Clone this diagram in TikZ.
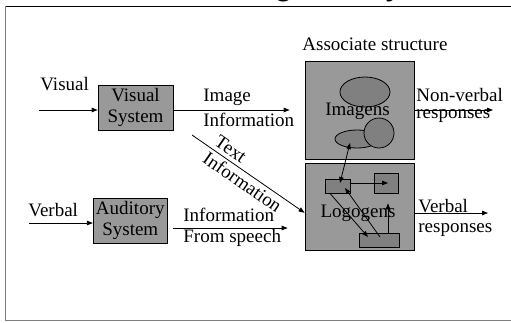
\documentclass[tikz,border=0pt]{standalone}
\usepackage{fontspec}
\setmainfont{Liberation Serif}
\newfontfamily\headfont{Liberation Sans}
\usetikzlibrary{arrows.meta,positioning,calc,shapes.geometric}
\definecolor{boxgray}{RGB}{153,153,153}
\definecolor{cellgray}{RGB}{128,128,128}
\definecolor{framegray}{RGB}{125,125,125}

\begin{document}
\begin{tikzpicture}[
  x=1pt, y=-1pt,
  font=\fontsize{19}{21}\selectfont,
  line width=0.8pt,
  >={Triangle[length=6pt,width=4.5pt]},
  sys/.style={draw, fill=boxgray, align=center, inner sep=1pt, minimum width=75pt, minimum height=45pt},
  store/.style={draw, fill=boxgray, inner sep=0pt, minimum width=109pt},
  cell/.style={draw, fill=cellgray, inner sep=0pt},
  lbl/.style={inner sep=0pt, anchor=base west},
  arr/.style={->},
]
\path[use as bounding box, clip] (0,0) rectangle (511,322);

% slide title, mostly cut away above the frame
\node[font=\headfont\fontsize{36}{40}\selectfont, anchor=base west, inner sep=0pt] (title) at (9,-5.8) {of the dual coding theory};
\draw (5,6) -- (511,6);
\draw[framegray] (5,6) -- (5,320.5) -- (511,320.5);

\node[sys] (vsys) at (135.5,107.5) {Visual\\System};
\node[sys, minimum width=74pt] (asys) at (130.3,220.8) {Auditory\\System};
\node[store, minimum height=98pt] (imag) at (359.5,110) {};
\node[store, minimum height=87pt, below=4pt of imag] (logo) {};
\node[lbl] (assoc) at (302,50) {Associate structure};

\node[cell, ellipse, minimum width=50pt, minimum height=30pt] (e1) at (365,92) {};
\node[cell, ellipse, minimum width=44pt, minimum height=18pt] (e2) at (357,139) {};
\node[cell, circle, minimum size=30pt] (e3) at (379,133) {};
\node[anchor=base, inner sep=0pt] (imtxt) at (357.5,115) {Imagens};

\node[cell, minimum width=25pt, minimum height=14pt] (r1) at (337.5,186) {};
\node[cell, minimum width=24pt, minimum height=20pt] (r2) at (386,183) {};
\node[cell, minimum width=40pt, minimum height=14pt] (r3) at (379,240) {};

\coordinate (vin) at (39,110);
\coordinate (ain) at (29,223);
\coordinate (aout) at (172.7,228);
\coordinate (ts) at (192,135);
\coordinate (nvout) at (493,110);
\coordinate (vout) at (488,213);

\node[lbl] (vislbl) at (40,90.7) {Visual};
\node[lbl] (verblbl) at (28,216.7) {Verbal};
\node[lbl] (imglbl) at (203,101.7) {Image};
\node[lbl] (imginf) at (203,126.7) {Information};
\node[lbl] (audinf) at (183,221.7) {Information};
\node[lbl] (audsp) at (183,242.7) {From speech};
\node[lbl] (nvlbl) at (416,101) {Non-verbal};
\node[lbl] (nvresp) at (416,118) {responses};
\node[lbl] (vlbl) at (418,212) {Verbal};
\node[lbl] (vresp) at (418,232) {responses};

\draw[arr] (vin) -- (vin -| vsys.west);
\draw[arr] (vin -| vsys.east) -- ($(vin -| imag.west)+(-15,0)$);
\draw[arr] (ain) -- (ain -| asys.west);
\draw[arr] (aout) -- ($(aout -| logo.west)+(-17,0)$);
\draw[arr] (ts) -- node[sloped, pos=0.5, align=left, inner sep=0pt] (tinf) {Text\\Information} ([shift={(0,5.5)}]logo.west);
\draw[arr] (imag.east) -- (nvout);
\draw[arr] (vout -| logo.east) -- (vout);

\draw[<->] ([shift={(-7,4)}]e2.center) -- ([shift={(2.5,-3)}]r1.center);
\draw[arr] ([shift={(0,-3)}]r1.east) -- ([shift={(2,0)}]r2.center);
\draw[arr] ([shift={(-7.5,0)}]r1.south) -- ([shift={(-11,-3)}]r3.center);
\draw[arr] ([shift={(1,-3)}]r3.center) -- ([shift={(7.5,2)}]r1.center);
\draw[arr] ([shift={(9,0)}]r3.north) -- ([shift={(2,10)}]r2.south);
\node[anchor=base, inner sep=0pt] (logtxt) at (358,217.7) {Logogens};
\end{tikzpicture}
\end{document}
